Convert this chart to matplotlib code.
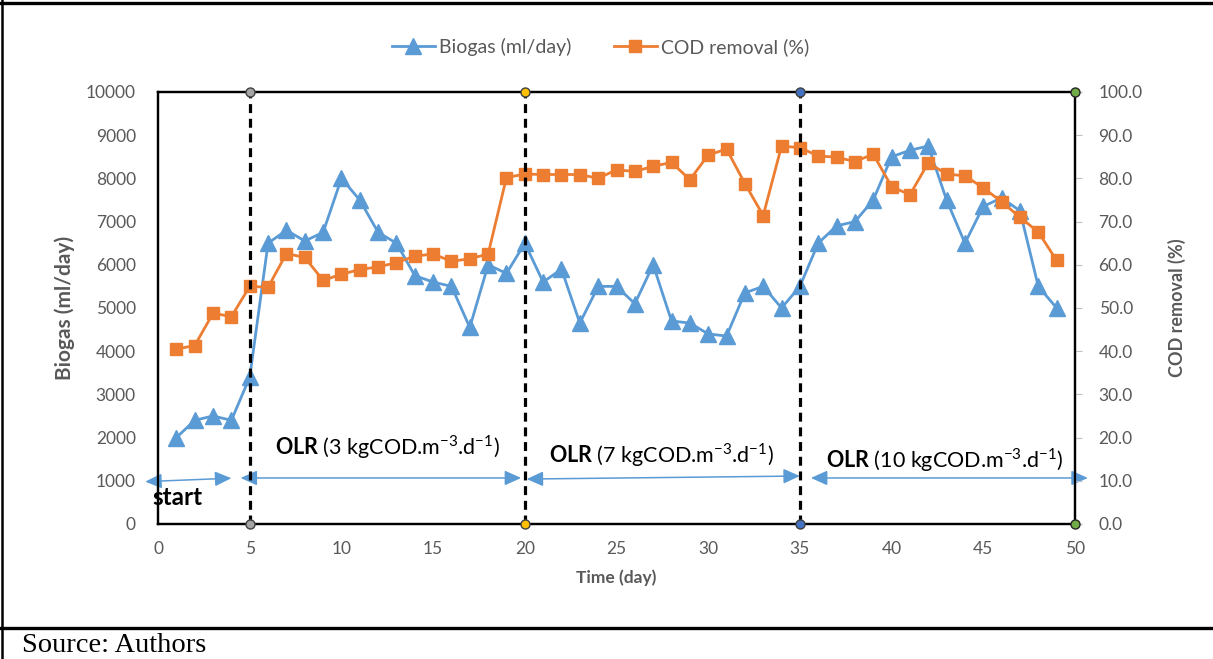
import matplotlib.pyplot as plt
from matplotlib.lines import Line2D

plt.rcParams['font.family'] = ['Lato', 'DejaVu Sans']
plt.rcParams['mathtext.fontset'] = 'custom'
plt.rcParams['mathtext.rm'] = 'Lato'
plt.rcParams['mathtext.bf'] = 'Lato:bold'

days = list(range(1, 50))
biogas = [2000, 2400, 2500, 2400, 3400, 6500, 6800, 6550, 6750, 8000,
          7500, 6750, 6500, 5750, 5600, 5500, 4550, 6000, 5800, 6500,
          5600, 5900, 4650, 5500, 5500, 5100, 6000, 4700, 4650, 4400,
          4350, 5350, 5500, 5000, 5500, 6500, 6900, 7000, 7500, 8500,
          8650, 8750, 7500, 6500, 7350, 7550, 7250, 5500, 5000]
cod = [40.5, 41.3, 48.8, 48.0, 55.0, 54.8, 62.6, 61.7, 56.4, 57.8,
       58.9, 59.5, 60.5, 62.0, 62.5, 60.8, 61.4, 62.5, 80.2, 81.0,
       80.9, 80.9, 80.9, 80.0, 82.0, 81.6, 82.8, 83.7, 79.7, 85.4,
       86.8, 78.8, 71.4, 87.5, 87.1, 85.2, 84.9, 83.9, 85.6, 78.1,
       76.2, 83.6, 81.0, 80.6, 77.8, 74.6, 71.0, 67.6, 61.0]

phase_days = [5, 20, 35]
phase_colors = ['#A5A5A5', '#FFC000', '#4472C4']
olr_labels = ['3', '7', '10']
olr_pos = [(6.4, 1780), (21.3, 1600), (36.4, 1480)]
arrows = [((-0.7, 980), (4.0, 1060)), ((4.5, 1065), (19.8, 1065)),
          ((20.1, 1040), (35.0, 1110)), ((35.6, 1065), (50.7, 1065))]

blue = '#5B9BD5'
orange = '#ED7D31'
grey = '#595959'

fig = plt.figure(figsize=(12.13, 6.59), dpi=100)
ax = fig.add_axes([0.1303, 0.2049, 0.7559, 0.6555])
ax2 = ax.twinx()

l1, = ax.plot(days, biogas, '-^', color=blue, lw=2, markersize=11, label='Biogas (ml/day)')
l2, = ax2.plot(days, cod, '-s', color=orange, lw=2, markersize=8.5, label='COD removal (%)')

ax.set_xlim(0, 50)
ax.set_ylim(0, 10000)
ax2.set_ylim(0, 100)
ax.set_xticks(range(0, 51, 5))
ax.set_yticks(range(0, 10001, 1000))
ax2.set_yticks(range(0, 101, 10))
ax2.set_yticklabels(['%.1f' % v for v in range(0, 101, 10)])

for a in (ax, ax2):
    for s in a.spines.values():
        s.set_color('black')
        s.set_linewidth(1.6)
ax.tick_params(axis='both', length=0, labelsize=12.5, labelcolor=grey)
ax.tick_params(axis='y', pad=16)
ax.tick_params(axis='x', pad=12)
ax2.tick_params(axis='y', length=5, color='#BFBFBF', labelsize=12.5, labelcolor=grey, pad=12)

ax.set_xlabel('Time (day)', fontsize=12.5, fontweight='bold', color=grey, labelpad=9)
ax.set_ylabel('Biogas (ml/day)', fontsize=15, fontweight='bold', color=grey, labelpad=8)
ax2.set_ylabel('COD removal (%)', fontsize=13, fontweight='bold', color=grey, labelpad=18)

# phase boundaries
for d, c in zip(phase_days, phase_colors):
    ax2.plot([d, d], [0, 100], color='black', lw=2.3, linestyle=(0, (2.8, 1.8)), zorder=5)
    ax2.plot([d, d], [0, 100], 'o', color=c, markeredgecolor='#404040', markersize=6.5,
             clip_on=False, zorder=6)
ax2.plot([50, 50], [0, 100], 'o', color='#70AD47', markeredgecolor='#262626', markersize=6.5,
         clip_on=False, zorder=6)

for (x, y), lab in zip(olr_pos, olr_labels):
    ax.text(x, y, r'$\mathbf{OLR}$ (' + lab + r' kgCOD.m$^{-3}$.d$^{-1}$)',
            fontsize=15.5, va='center', ha='left')
ax.text(-0.3, 620, 'start', fontsize=17.5, fontweight='bold', va='center', ha='left')

for p0, p1 in arrows:
    ax.annotate('', xy=p1, xytext=p0, annotation_clip=False,
                arrowprops=dict(arrowstyle='<|-|>,head_length=1.0,head_width=0.45',
                                color=blue, lw=1.1, shrinkA=0, shrinkB=0))

fig.legend(handles=[l1, l2], loc='center', bbox_to_anchor=(0.495, 0.929), ncol=2,
           frameon=False, fontsize=14, labelcolor=grey, handlelength=2.2,
           columnspacing=2.2, handletextpad=0.2)

# table cell borders
fig.add_artist(Line2D([0, 1], [0.9954, 0.9954], color='black', lw=2.4, transform=fig.transFigure))
fig.add_artist(Line2D([0.0016, 0.0016], [0, 1], color='black', lw=1.8, transform=fig.transFigure))
fig.add_artist(Line2D([0, 1], [0.047, 0.047], color='black', lw=2.4, transform=fig.transFigure))
fig.text(0.018, 0.021, 'Source: Authors', fontsize=20.5, family='Liberation Serif', va='center')

fig.savefig('out.png', dpi=100)
